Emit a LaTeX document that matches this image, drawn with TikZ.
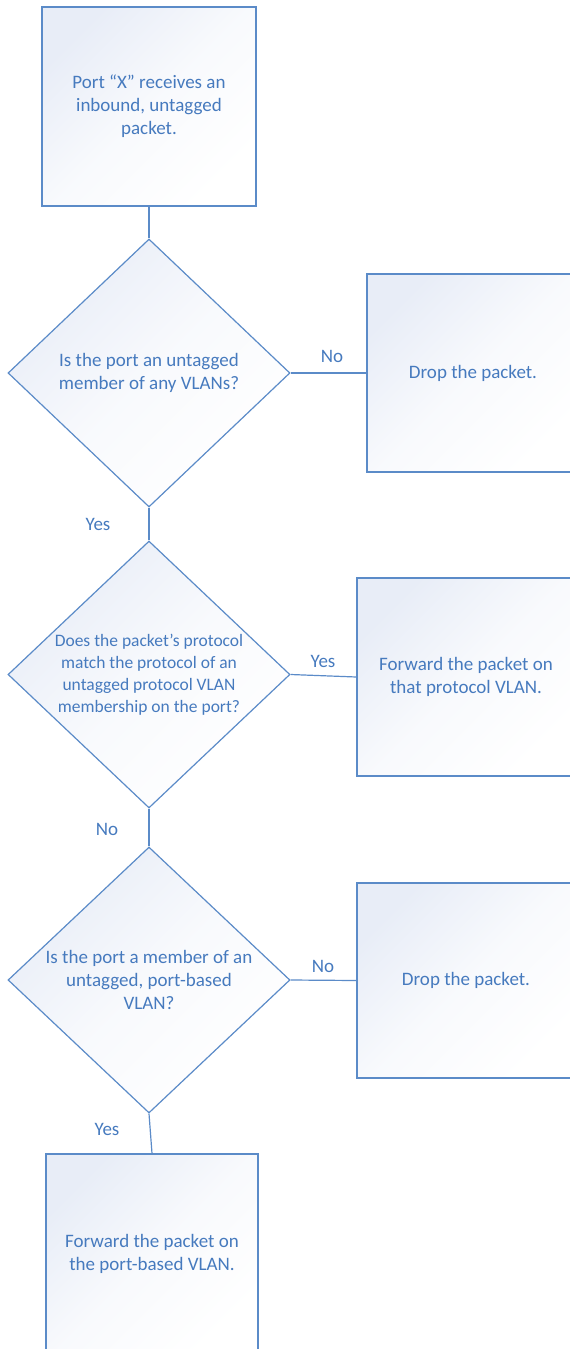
\documentclass[tikz,border=0pt]{standalone}
\usepackage{fontspec}
\setmainfont{Carlito}
\usetikzlibrary{shapes.geometric}
\definecolor{lineblue}{RGB}{91,139,200}
\definecolor{textblue}{RGB}{70,122,190}
\definecolor{fillblue}{RGB}{232,237,247}
\begin{document}
\begin{tikzpicture}[x=1pt,y=-1pt,
  flowfill/.style={top color=fillblue, bottom color=white, middle color=white!70!fillblue, shading angle=45},
  procbox/.style={rectangle, draw=lineblue, line width=1.2pt, flowfill, inner sep=0pt,
    align=center, text=textblue, font=\fontsize{19}{23}\selectfont},
  decision/.style={diamond, draw=lineblue, line width=1.2pt, flowfill, inner sep=0pt},
  dtext/.style={align=center, text=textblue, inner sep=0pt, font=\fontsize{19}{23.5}\selectfont},
  lbl/.style={text=textblue, inner sep=0pt, font=\fontsize{19}{23}\selectfont},
  conn/.style={draw=lineblue, line width=1.2pt}]
\useasboundingbox (0,0) rectangle (570,1349);
% nodes
\node[procbox, minimum width=214pt, minimum height=199pt] (b1) at (149,106.5)
  {Port “X” receives an\\inbound, untagged\\packet.};
\node[decision, minimum width=282pt, minimum height=268pt] (d1) at (149,373) {};
\node[dtext] (t1) at (149,373) {Is the port an untagged\\member of any VLANs?};
\node[procbox, minimum width=212pt, minimum height=198pt] (r1) at (473,373)
  {Drop the packet.};
\node[decision, minimum width=282pt, minimum height=267pt] (d2) at (149,674.5) {};
\node[dtext, font=\fontsize{17.5}{22}\selectfont] (t2) at (149,675)
  {Does the packet’s protocol\\match the protocol of an\\untagged protocol VLAN\\membership on the port?};
\node[procbox, minimum width=218pt, minimum height=198pt] (r2) at (466,677)
  {Forward the packet on\\that protocol VLAN.};
\node[decision, minimum width=282pt, minimum height=266pt] (d3) at (149,980) {};
\node[dtext, font=\fontsize{19}{23}\selectfont] (t3) at (149,980)
  {Is the port a member of an\\untagged, port-based\\VLAN?};
\node[procbox, minimum width=218pt, minimum height=195pt] (r3) at (466,980.5)
  {Drop the packet.};
\node[procbox, minimum width=212pt, minimum height=200pt] (b4) at (152,1254)
  {Forward the packet on\\the port-based VLAN.};
% labels
\node[lbl] (l1) at (332,356) {No};
\node[lbl] (l2) at (98,524) {Yes};
\node[lbl] (l3) at (323,661) {Yes};
\node[lbl] (l4) at (107,829) {No};
\node[lbl] (l5) at (323,966) {No};
\node[lbl] (l6) at (107,1129) {Yes};
% connectors
\draw[conn] (b1.south) -- (d1.north);
\draw[conn] (d1.east) -- (r1.west);
\draw[conn] (d1.south) -- (d2.north);
\draw[conn] (d2.east) -- (r2.west);
\draw[conn] (d2.south) -- (d3.north);
\draw[conn] (d3.east) -- (r3.west);
\draw[conn] (d3.south) -- (b4.north);
\end{tikzpicture}
\end{document}
